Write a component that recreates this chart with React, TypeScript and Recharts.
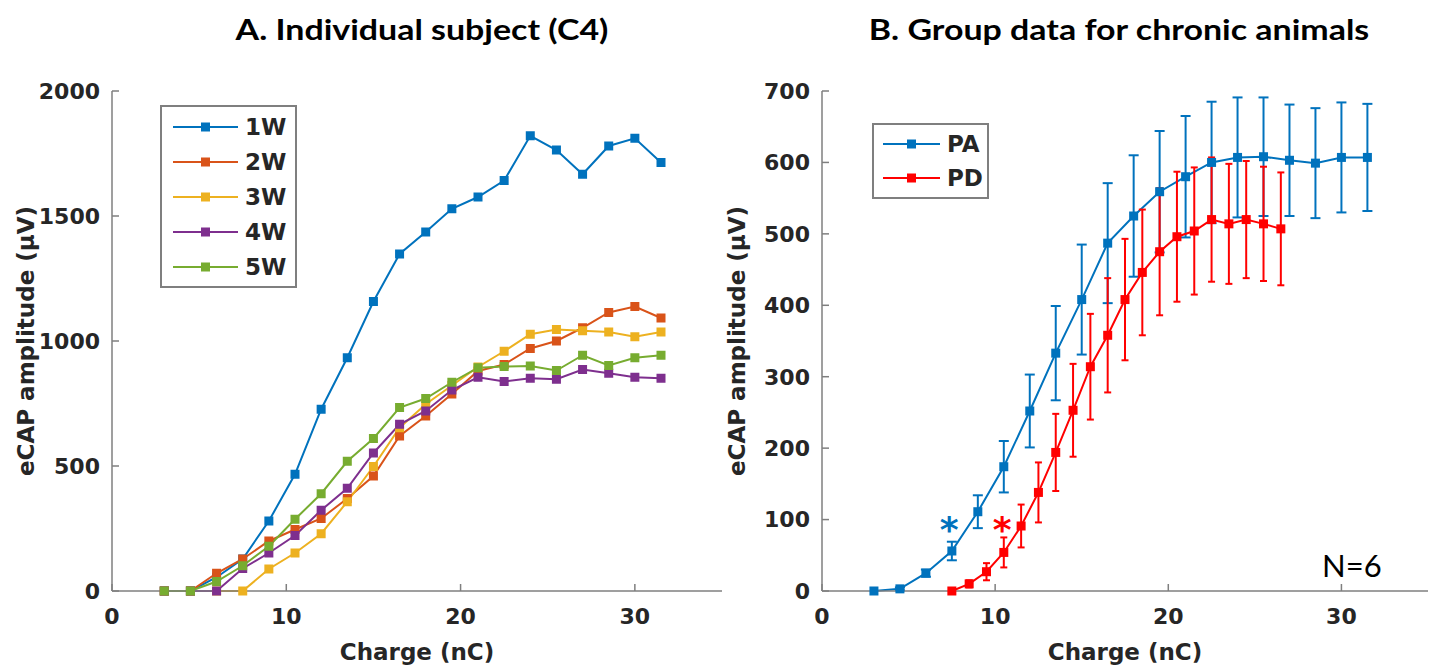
import { LineChart, Line, XAxis, YAxis, Legend, ErrorBar, ReferenceDot, Label } from 'recharts'

// Panel A: individual subject (C4), amplitude per week
const charge = [3, 4.5, 6, 7.5, 9, 10.5, 12, 13.5, 15, 16.5, 18, 19.5, 21, 22.5, 24, 25.5, 27, 28.5, 30, 31.5]
const w1 = [0, 0, 55, 128, 280, 467, 727, 933, 1158, 1348, 1436, 1529, 1576, 1642, 1821, 1764, 1667, 1780, 1811, 1714]
const w2 = [0, 0, 71, 128, 200, 246, 290, 370, 460, 620, 700, 788, 880, 906, 970, 1000, 1053, 1114, 1138, 1092]
const w3 = [0, 0, 0, 0, 88, 152, 229, 357, 498, 653, 747, 822, 896, 959, 1027, 1046, 1041, 1036, 1017, 1036]
const w4 = [0, 0, 0, 90, 152, 222, 323, 411, 552, 667, 720, 804, 855, 838, 851, 847, 886, 871, 855, 851]
const w5 = [0, 0, 38, 101, 179, 287, 389, 519, 610, 734, 770, 835, 893, 898, 900, 882, 943, 902, 933, 943]
const weekNames = ['1W', '2W', '3W', '4W', '5W']
const weekColors = ['#0072BD', '#D95319', '#EDB120', '#7E2F8E', '#77AC30']
const ticksA = [0, 500, 1000, 1500, 2000]

// Panel B: group data, mean +- error
const paCharge = [3, 4.5, 6, 7.5, 9, 10.5, 12, 13.5, 15, 16.5, 18, 19.5, 21, 22.5, 24, 25.5, 27, 28.5, 30, 31.5]
const paMean = [0, 3, 25, 56, 111, 174, 252, 333, 408, 487, 525, 559, 580, 600, 607, 608, 603, 599, 607, 607]
const paErr = [0, 2, 5, 13, 23, 36, 51, 66, 77, 84, 85, 85, 85, 85, 84, 83, 78, 77, 77, 75]
const pdCharge = [7.5, 8.5, 9.5, 10.5, 11.5, 12.5, 13.5, 14.5, 15.5, 16.5, 17.5, 18.5, 19.5, 20.5, 21.5, 22.5, 23.5, 24.5, 25.5, 26.5]
const pdMean = [0, 10, 27, 54, 91, 138, 194, 253, 314, 358, 408, 446, 475, 496, 504, 520, 514, 520, 514, 507]
const pdErr = [0, 5, 12, 21, 30, 42, 54, 65, 74, 80, 85, 88, 89, 91, 89, 87, 84, 82, 80, 79]
const ticksB = [0, 100, 200, 300, 400, 500, 600, 700]
const xTicks = [0, 10, 20, 30]
const stars = [
  { x: 7.35, y: 97, color: '#0072BD' },
  { x: 10.4, y: 97, color: '#FF0000' },
]

const weekData = charge.map((x, i) => ({ x, w1: w1[i], w2: w2[i], w3: w3[i], w4: w4[i], w5: w5[i] }))
const weekSeries = [w1, w2, w3, w4, w5].map((_, i) => ({ key: `w${i + 1}`, name: weekNames[i], color: weekColors[i] }))
const paData = paCharge.map((x, i) => ({ x, y: paMean[i], err: paErr[i] }))
const pdData = pdCharge.map((x, i) => ({ x, y: pdMean[i], err: pdErr[i] }))

const AXIS = '#7f7f7f'
const TEXT = '#262626'
const tickFont = { fill: TEXT, fontSize: 22, fontWeight: 700, fontFamily: 'DejaVu Sans' }
const labelFont = { fill: TEXT, fontSize: 23, fontWeight: 700, fontFamily: 'DejaVu Sans' }

const square = (color: string, size: number) => (p: any) => (
  <rect key={p.index} x={p.cx - size / 2} y={p.cy - size / 2} width={size} height={size} fill={color} />
)

function LegendBox({ payload, width, lineLen, rowH, padL, size }: any) {
  return (
    <div style={{ width, boxSizing: 'border-box', border: `2px solid ${AXIS}`, background: '#fff', padding: `2px 0 2px ${padL}px` }}>
      {(payload || []).map((p: any) => (
        <div key={p.value} style={{ display: 'flex', alignItems: 'center', height: rowH }}>
          <svg width={lineLen} height={12}>
            <line x1={0} y1={6} x2={lineLen} y2={6} stroke={p.color} strokeWidth={2} />
            <rect x={lineLen / 2 - size / 2} y={6 - size / 2} width={size} height={size} fill={p.color} />
          </svg>
          <span style={{ marginLeft: 7, fontFamily: 'DejaVu Sans', fontWeight: 700, fontSize: 23, color: TEXT }}>{p.value}</span>
        </div>
      ))}
    </div>
  )
}

const titleStyle = {
  position: 'absolute' as const, top: 14, fontFamily: 'Lato', fontWeight: 700, fontSize: 29,
  lineHeight: '29px', textAlign: 'center' as const, color: '#000', transform: 'scaleX(1.17)',
}

export default function App() {
  return (
    <div style={{ position: 'absolute', left: 0, top: 0, width: 1434, height: 667, background: '#fff' }}>
      <div style={{ ...titleStyle, left: 0, width: 844 }}>A. Individual subject (C4)</div>
      <div style={{ ...titleStyle, left: 804, width: 630 }}>B. Group data for chronic animals</div>

      <div style={{ position: 'absolute', left: 0, top: 0 }}>
        <LineChart width={760} height={667} data={weekData} margin={{ top: 91, right: 38, bottom: 0, left: 0 }}>
          <XAxis
            dataKey="x" type="number" domain={[0, 35]} ticks={xTicks} height={76}
            stroke={AXIS} strokeWidth={1.5} tickSize={-7} tickMargin={24} tick={tickFont}
          >
            <Label value="Charge (nC)" position="center" dy={23} style={labelFont} />
          </XAxis>
          <YAxis
            type="number" domain={[0, 2000]} ticks={ticksA} width={112}
            stroke={AXIS} strokeWidth={1.5} tickSize={-7} tickMargin={19} tick={tickFont}
          >
            <Label value="eCAP amplitude (µV)" position="center" angle={-90} dx={-30} style={labelFont} />
          </YAxis>
          <Legend
            layout="vertical" align="center" verticalAlign="middle"
            wrapperStyle={{ left: 160, top: 105 }}
            content={(p: any) => <LegendBox payload={p.payload} width={137} lineLen={65} rowH={35} padL={11} size={9} />}
          />
          {weekSeries.map(s => (
            <Line
              key={s.key} dataKey={s.key} name={s.name} stroke={s.color} strokeWidth={2}
              dot={square(s.color, 9)} activeDot={false} isAnimationActive={false}
            />
          ))}
        </LineChart>
      </div>

      <div style={{ position: 'absolute', left: 720, top: 0 }}>
        <LineChart width={714} height={667} margin={{ top: 91, right: 6, bottom: 0, left: 0 }}>
          <XAxis
            dataKey="x" type="number" domain={[0, 35]} ticks={xTicks} height={76} allowDuplicatedCategory={false}
            stroke={AXIS} strokeWidth={1.5} tickSize={-7} tickMargin={24} tick={tickFont}
          >
            <Label value="Charge (nC)" position="center" dy={23} style={labelFont} />
          </XAxis>
          <YAxis
            type="number" domain={[0, 700]} ticks={ticksB} width={102}
            stroke={AXIS} strokeWidth={1.5} tickSize={-7} tickMargin={19} tick={tickFont}
          >
            <Label value="eCAP amplitude (µV)" position="center" angle={-90} dx={-34} style={labelFont} />
          </YAxis>
          <Legend
            layout="vertical" align="center" verticalAlign="middle"
            wrapperStyle={{ left: 152, top: 123 }}
            content={(p: any) => <LegendBox payload={p.payload} width={117} lineLen={57} rowH={34} padL={9} size={9} />}
          />
          <Line
            data={paData} dataKey="y" name="PA" stroke="#0072BD" strokeWidth={2}
            dot={square('#0072BD', 9)} activeDot={false} isAnimationActive={false}
          >
            <ErrorBar dataKey="err" direction="y" width={5} strokeWidth={2} stroke="#0072BD" />
          </Line>
          <Line
            data={pdData} dataKey="y" name="PD" stroke="#FF0000" strokeWidth={2}
            dot={square('#FF0000', 9)} activeDot={false} isAnimationActive={false}
          >
            <ErrorBar dataKey="err" direction="y" width={3.5} strokeWidth={2} stroke="#FF0000" />
          </Line>
          {stars.map(s => (
            <ReferenceDot
              key={s.color} x={s.x} y={s.y} r={0}
              shape={(p: any) => (
                <text x={p.cx} y={p.cy + 20} textAnchor="middle" fill={s.color}
                  fontSize={36} fontWeight={700} fontFamily="DejaVu Sans">*</text>
              )}
            />
          ))}
        </LineChart>
      </div>

      <div style={{ position: 'absolute', left: 1322, top: 550, fontFamily: 'Lato', fontSize: 31, lineHeight: '31px', color: '#000' }}>
        N=6
      </div>
    </div>
  )
}
